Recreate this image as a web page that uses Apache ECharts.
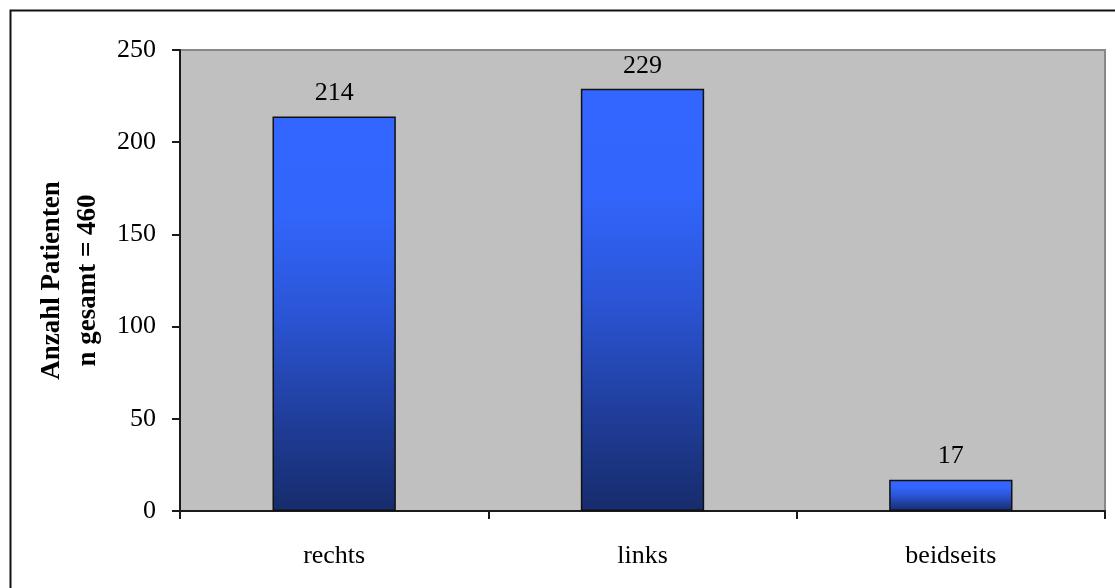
<!DOCTYPE html>
<html>
<head>
<meta charset="utf-8">
<script src="https://cdn.jsdelivr.net/npm/echarts@6/dist/echarts.min.js"></script>
<style>
  html, body { margin: 0; padding: 0; background: #ffffff; }
  #chart { width: 1115px; height: 588px; }
</style>
</head>
<body>
<div id="chart"></div>
<script>
// Seite der Erkrankung
const categories = ['rechts', 'links', 'beidseits'];
const patients = [214, 229, 17];
const yTicks = { min: 0, max: 250, interval: 50 };
const axisTitle = 'Anzahl Patienten\nn gesamt = 460';

const serif = '"Liberation Serif", "Times New Roman", serif';

const chart = echarts.init(document.getElementById('chart'), null, { renderer: 'canvas' });

chart.setOption({
  animation: false,
  backgroundColor: '#ffffff',
  graphic: [{
    type: 'rect',
    left: 8, top: 8,
    shape: { width: 1125, height: 600 },
    style: { fill: 'none', stroke: '#111111', lineWidth: 2 },
    z: -1
  }],
  grid: {
    left: 180, right: 10, top: 50, bottom: 77,
    outerBoundsMode: 'none',
    containLabel: false,
    show: true,
    backgroundColor: '#c0c0c0',
    borderColor: '#888888',
    borderWidth: 2
  },
  xAxis: {
    type: 'category',
    data: categories,
    axisLine: { lineStyle: { color: '#1a1a1a', width: 2 } },
    axisTick: { show: true, alignWithLabel: false, length: 8, lineStyle: { color: '#1a1a1a', width: 2 } },
    axisLabel: { color: '#000', fontFamily: serif, fontSize: 26, margin: 32 },
    splitLine: { show: false }
  },
  yAxis: {
    type: 'value',
    min: yTicks.min, max: yTicks.max, interval: yTicks.interval,
    name: axisTitle,
    nameLocation: 'middle',
    nameGap: 73,
    nameTextStyle: { color: '#000', fontFamily: serif, fontSize: 27, fontWeight: 'bold', lineHeight: 36, align: 'center' },
    axisLine: { show: true, lineStyle: { color: '#1a1a1a', width: 2 } },
    axisTick: { show: true, length: 8, lineStyle: { color: '#1a1a1a', width: 2 } },
    axisLabel: { color: '#000', fontFamily: serif, fontSize: 26, margin: 24 },
    splitLine: { show: false }
  },
  series: [{
    type: 'bar',
    data: patients,
    barWidth: '40%',
    itemStyle: {
      color: new echarts.graphic.LinearGradient(0, 0, 0, 1, [
        { offset: 0, color: '#3366ff' },
        { offset: 0.25, color: '#3265fb' },
        { offset: 0.5, color: '#2b55d6' },
        { offset: 0.75, color: '#203f9e' },
        { offset: 1, color: '#172c6c' }
      ]),
      borderColor: '#111111',
      borderWidth: 1.5
    },
    label: {
      show: true,
      position: 'top',
      distance: 10,
      color: '#000',
      fontFamily: serif,
      fontSize: 26
    }
  }]
});
</script>
</body>
</html>
